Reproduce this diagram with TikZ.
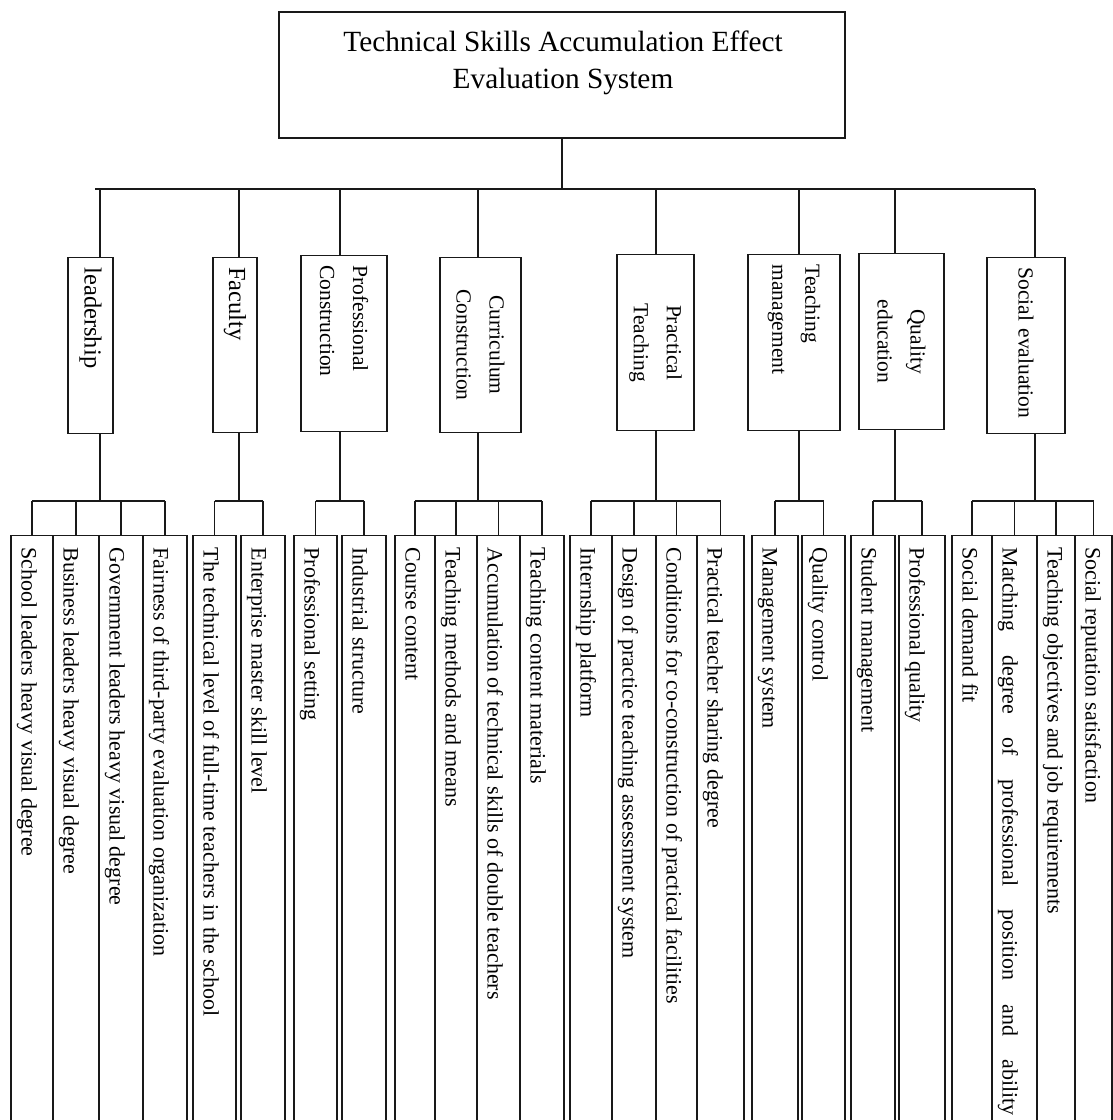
\documentclass[tikz,border=0pt]{standalone}
\usepackage{fontspec}
\setmainfont{Liberation Serif}
\begin{document}
\begin{tikzpicture}[x=1pt,y=-1pt,
  conn/.style={draw=black!90, line width=1.2pt},
  titlebox/.style={draw=black!90, line width=1.2pt, minimum width=566pt, minimum height=126pt, inner sep=0pt},
  titletext/.style={align=center, inner sep=0pt, font=\fontsize{29.3pt}{37pt}\selectfont},
  cat/.style={draw=black!90, line width=1.2pt, rotate=-90, anchor=west, inner sep=0pt,
              minimum width=176pt, text width=156pt, font=\fontsize{21.5pt}{33pt}\selectfont},
  catbig/.style={cat, font=\fontsize{24.5pt}{30pt}\selectfont},
  leaf/.style={draw=black!90, line width=1.2pt, rotate=-90, anchor=west, inner xsep=12pt,
               inner ysep=0pt, text depth=10.5pt, font=\fontsize{22pt}{26pt}\selectfont}
]
\fill[white] (0,0) rectangle (1113,1120);
\clip (0,0) rectangle (1113,1120);

% title
\node[titlebox] (title) at (562,75) {};
\node[titletext, anchor=north] (titletxt) at (563,31) {Technical Skills Accumulation Effect\\Evaluation System};

% bus
\coordinate (busL) at (95,189);
\coordinate (busR) at (1035,189);
\coordinate (bar) at (0,501);
\draw[conn] (title.south) -- (title.south |- busL);
\draw[conn] (busL) -- (busR);

% stems
\coordinate (s1) at (100,189);
\coordinate (s2) at (239,189);
\coordinate (s3) at (340,189);
\coordinate (s4) at (478,189);
\coordinate (s5) at (656,189);
\coordinate (s6) at (799,189);
\coordinate (s7) at (895,189);
\coordinate (s8) at (1035,189);

% categories
\node[catbig, minimum height=45pt, align=left] (c1) at (90.5,257) {leadership};
\node[catbig, minimum height=44pt, minimum width=175pt, align=left] (c2) at (235,257) {Faculty};
\node[cat, minimum height=86pt, align=left] (c3) at (344,255) {Professional\\Construction};
\node[cat, minimum height=81pt, minimum width=175pt, align=center] (c4) at (480.5,257) {Curriculum\\Construction};
\node[cat, minimum height=77pt, align=center] (c5) at (655.5,254) {Practical\\Teaching};
\node[cat, minimum height=92pt, align=left] (c6) at (794,254) {Teaching\\management};
\node[cat, minimum height=85pt, align=center] (c7) at (901.5,253) {Quality\\education};
\node[cat, minimum height=78pt, align=left] (c8) at (1026,257) {Social evaluation};

\foreach \i in {1,...,8} {
  \draw[conn] (s\i) -- (s\i |- c\i.west);
  \draw[conn] (s\i |- c\i.east) -- (s\i |- bar);
}

% leaves
\foreach \n/\x/\w/\t in {
  L1/32/42/School leaders heavy visual degree,
  L2/76/46/Business leaders heavy visual degree,
  L3/121/44/Government leaders heavy visual degree,
  L4/165/44/Fairness of third-party evaluation organization,
  F1/214.5/43/The technical level of full-time teachers in the school,
  F2/263/44/Enterprise master skill level,
  P1/315.5/43/Professional setting,
  P2/364/44/Industrial structure,
  C1/415/40/Course content,
  C2/456/42/Teaching methods and means,
  C3/498.5/43/Accumulation of technical skills of double teachers,
  C4/542/44/Teaching content materials,
  T1/591/42/Internship platform,
  T2/634/44/Design of practice teaching assessment system,
  T3/676.5/41/Conditions for co-construction of practical facilities,
  T4/720.5/47/Practical teacher sharing degree,
  M1/775/46/Management system,
  M2/823.5/43/Quality control,
  Q1/873/44/Student management,
  Q2/922/46/Professional quality,
  S1/972/40/Social demand fit,
  S2/1014.5/45/{\makebox[568pt][s]{Matching degree of professional position and ability}},
  S3/1056/38/Teaching objectives and job requirements,
  S4/1093.5/37/Social reputation satisfaction} {
  \pgfmathsetmacro{\th}{\w-10.5}
  \node[leaf, text height=\th pt] (\n) at (\x,535) {\makebox[600pt][l]{\t}};
}

% group connectors
\draw[conn] (L1.west |- bar) -- (L4.west |- bar);
\draw[conn] (F1.west |- bar) -- (F2.west |- bar);
\draw[conn] (P1.west |- bar) -- (P2.west |- bar);
\draw[conn] (C1.west |- bar) -- (C4.west |- bar);
\draw[conn] (T1.west |- bar) -- (T4.west |- bar);
\draw[conn] (M1.west |- bar) -- (M2.west |- bar);
\draw[conn] (Q1.west |- bar) -- (Q2.west |- bar);
\draw[conn] (S1.west |- bar) -- (S4.west |- bar);
\foreach \k in {L1,L2,L3,L4,F1,F2,P1,P2,C1,C2,C3,C4,T1,T2,T3,T4,M1,M2,Q1,Q2,S1,S2,S3,S4}
  \draw[conn] (\k.west) -- (\k.west |- bar);
\end{tikzpicture}
\end{document}
